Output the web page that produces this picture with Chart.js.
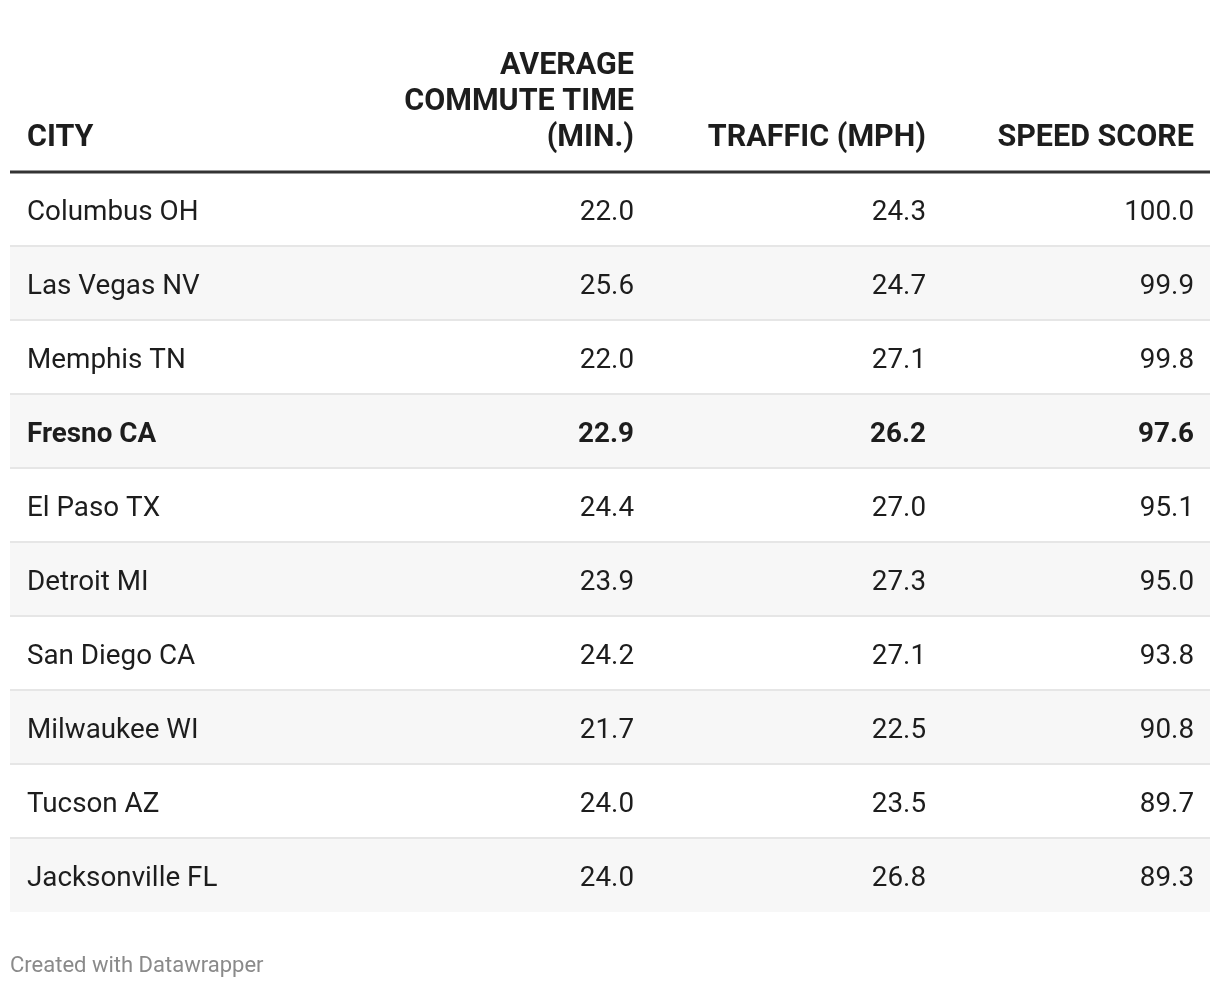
<!DOCTYPE html>
<html>
<head>
<meta charset="utf-8">
<script src="https://cdn.jsdelivr.net/npm/chart.js@4"></script>
<style>
  html, body { margin: 0; padding: 0; background: #fff; }
  #table { display: block; }
</style>
</head>
<body>
<canvas id="table" width="1220" height="988"></canvas>
<script>
// table data
const cities = ['Columbus OH', 'Las Vegas NV', 'Memphis TN', 'Fresno CA', 'El Paso TX',
  'Detroit MI', 'San Diego CA', 'Milwaukee WI', 'Tucson AZ', 'Jacksonville FL'];
const commuteTime = [22.0, 25.6, 22.0, 22.9, 24.4, 23.9, 24.2, 21.7, 24.0, 24.0];
const trafficMph = [24.3, 24.7, 27.1, 26.2, 27.0, 27.3, 27.1, 22.5, 23.5, 26.8];
const speedScore = [100.0, 99.9, 99.8, 97.6, 95.1, 95.0, 93.8, 90.8, 89.7, 89.3];
const headers = [['CITY'], ['AVERAGE', 'COMMUTE TIME', '(MIN.)'], ['TRAFFIC (MPH)'], ['SPEED SCORE']];
const highlighted = 'Fresno CA';

// column anchors in x-scale units (0..1200 spans the table width)
const colX = [17, 624, 916, 1184];
const colAlign = ['left', 'right', 'right', 'right'];

const ctx = document.getElementById('table');

const cellText = {
  id: 'cellText',
  afterDraw(chart) {
    const c = chart.ctx;
    const x = chart.scales.x;
    const y = chart.scales.y;
    const top = chart.chartArea.top;
    c.save();
    c.textBaseline = 'middle';
    c.fillStyle = '#1d1d1d';

    // header
    c.font = 'bold 30.5px Roboto';
    headers.forEach((lines, ci) => {
      c.textAlign = colAlign[ci];
      lines.forEach((t, li) => {
        const yy = top - 34 - (lines.length - 1 - li) * 36;
        c.fillText(t, x.getPixelForValue(colX[ci]), yy);
      });
    });

    // header rule
    c.strokeStyle = '#333333';
    c.lineWidth = 3;
    c.beginPath();
    c.moveTo(chart.chartArea.left, top);
    c.lineTo(chart.chartArea.right, top);
    c.stroke();

    // body cells
    cities.forEach((city, i) => {
      const yy = y.getPixelForValue(i) + 4;
      c.font = (city === highlighted ? 'bold ' : '') + '27.8px Roboto';
      const vals = [city, commuteTime[i].toFixed(1), trafficMph[i].toFixed(1), speedScore[i].toFixed(1)];
      vals.forEach((v, ci) => {
        c.textAlign = colAlign[ci];
        c.fillText(v, x.getPixelForValue(colX[ci]), yy);
      });
    });

    // footer
    c.font = '22px Roboto';
    c.fillStyle = '#8a8a8a';
    c.textAlign = 'left';
    c.fillText('Created with Datawrapper', chart.chartArea.left, 966);
    c.restore();
  }
};

new Chart(ctx, {
  type: 'bar',
  data: {
    labels: cities,
    datasets: [{
      data: cities.map(() => [0, 1200]),
      backgroundColor: cities.map((_, i) => i % 2 ? '#f7f7f7' : '#ffffff'),
      barPercentage: 1,
      categoryPercentage: 1,
      borderWidth: 0
    }]
  },
  options: {
    indexAxis: 'y',
    responsive: false,
    animation: false,
    events: [],
    layout: { padding: { left: 10, right: 10, top: 172, bottom: 76 } },
    plugins: { legend: { display: false }, tooltip: { enabled: false } },
    scales: {
      x: { type: 'linear', min: 0, max: 1200, display: false },
      y: {
        display: true,
        ticks: { display: false },
        border: { display: false },
        grid: {
          offset: true,
          z: 1,
          drawTicks: false,
          lineWidth: 2,
          color: (c) => (c.type !== 'tick' || c.index === 0) ? 'rgba(0,0,0,0)' : '#e6e6e6'
        }
      }
    }
  },
  plugins: [cellText]
});
</script>
</body>
</html>
